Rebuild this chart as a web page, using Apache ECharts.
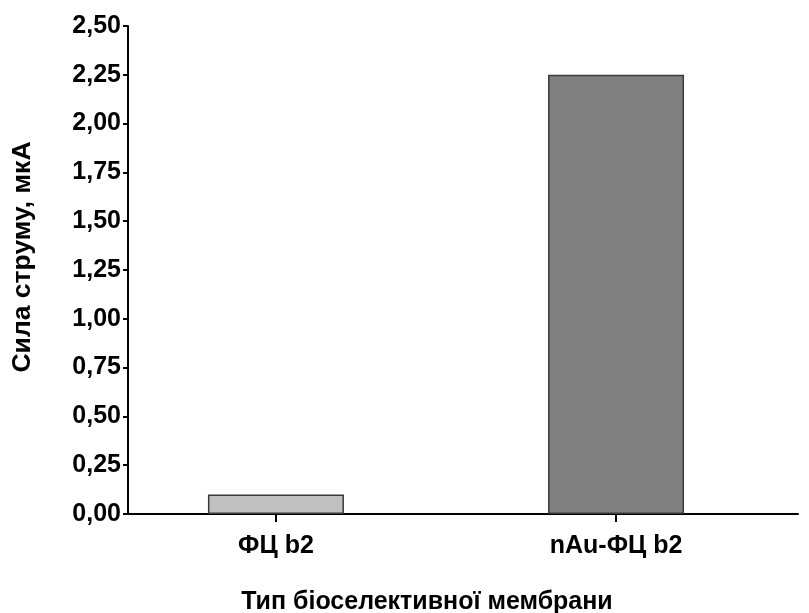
<!DOCTYPE html>
<html>
<head>
<meta charset="utf-8">
<script src="https://cdn.jsdelivr.net/npm/echarts@6/dist/echarts.min.js"></script>
<style>
  html, body { margin: 0; padding: 0; background: #fff; }
  #chart { width: 809px; height: 613px; }
</style>
</head>
<body>
<div id="chart"></div>
<script>
// Membrane types, their positions on the x scale, and measured current (µA)
const categories = ['ФЦ b2', 'nAu-ФЦ b2'];
const positions = [1, 2];
const currents = [0.10, 2.25];
const barColors = ['#c0c0c0', '#808080'];

const font = 'Liberation Sans, Arial, sans-serif';
const chart = echarts.init(document.getElementById('chart'));

chart.setOption({
  animation: false,
  backgroundColor: '#fff',
  grid: { left: 128, right: 11, top: 26, bottom: 99, containLabel: false, outerBoundsMode: 'none' },
  xAxis: {
    type: 'value',
    min: 0.565,
    max: 2.535,
    splitLine: { show: false },
    axisLine: { show: true, onZero: false, lineStyle: { color: '#000', width: 2 } },
    axisTick: { show: true, customValues: positions, length: 8, inside: false, lineStyle: { color: '#000', width: 2 } },
    axisLabel: {
      customValues: positions,
      formatter: v => categories[positions.indexOf(v)] || '',
      color: '#000', fontFamily: font, fontWeight: 'bold', fontSize: 25, margin: 20
    },
    name: 'Тип біоселективної мембрани',
    nameLocation: 'middle',
    nameGap: 76,
    nameTextStyle: { color: '#000', fontFamily: font, fontWeight: 'bold', fontSize: 25, padding: [0, 72, 0, 0] }
  },
  yAxis: {
    type: 'value',
    min: 0,
    max: 2.5,
    interval: 0.25,
    splitLine: { show: false },
    axisLine: { show: true, lineStyle: { color: '#000', width: 2 } },
    axisTick: { show: true, length: 5, lineStyle: { color: '#000', width: 2 } },
    axisLabel: {
      formatter: v => v.toFixed(2).replace('.', ','),
      color: '#000', fontFamily: font, fontWeight: 'bold', fontSize: 25, margin: 7
    },
    name: 'Сила струму, мкА',
    nameLocation: 'middle',
    nameGap: 92,
    nameTextStyle: { color: '#000', fontFamily: font, fontWeight: 'bold', fontSize: 26.5, padding: [0, 0, 0, 26] }
  },
  series: [{
    type: 'bar',
    barWidth: 136,
    data: positions.map((p, i) => ({
      value: [p, currents[i]],
      itemStyle: { color: barColors[i], borderColor: '#3a3a3a', borderWidth: 1.5 }
    }))
  }]
});
</script>
</body>
</html>
